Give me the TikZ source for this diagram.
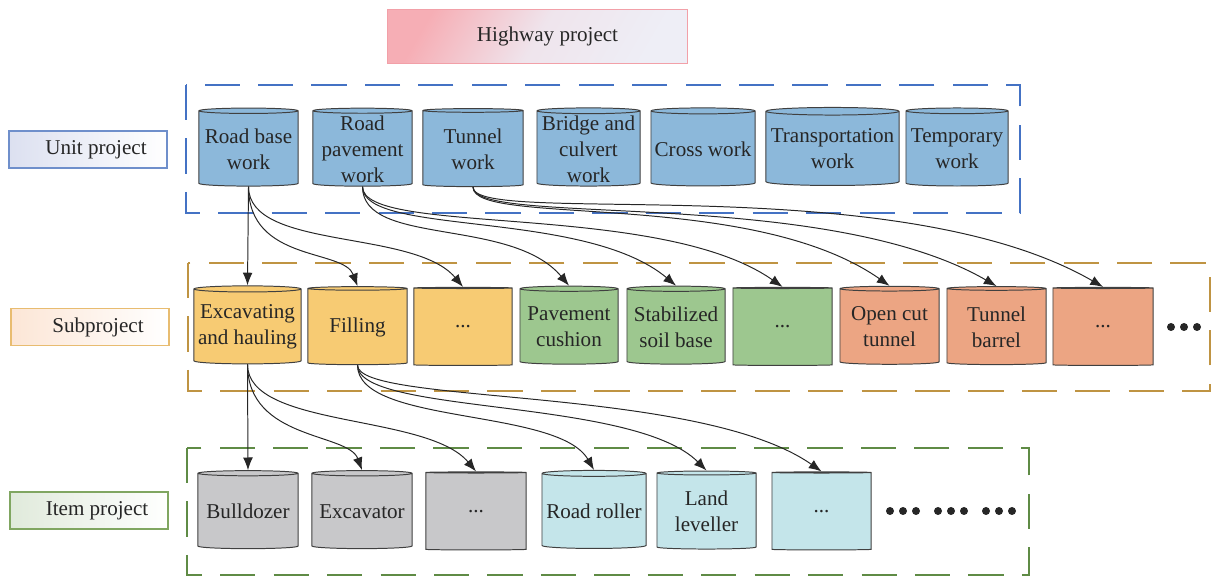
\documentclass[tikz,border=0pt]{standalone}
\usepackage{fontspec}
\setmainfont{Liberation Serif}
\usetikzlibrary{shapes.geometric,arrows.meta}
\definecolor{txtgray}{HTML}{262626}
\definecolor{drumline}{HTML}{404040}
\definecolor{unitblue}{HTML}{8CB8DA}
\definecolor{subyellow}{HTML}{F7CB73}
\definecolor{subgreen}{HTML}{9DC78F}
\definecolor{subsalmon}{HTML}{ECA583}
\definecolor{itemgray}{HTML}{C8C8CA}
\definecolor{itemcyan}{HTML}{C4E5EA}
\definecolor{tierblue}{HTML}{4472C4}
\definecolor{tiergold}{HTML}{BF9443}
\definecolor{tiergreen}{HTML}{5F8B45}
\definecolor{hwyred}{HTML}{F6AEB5}
\definecolor{hwylav}{HTML}{EEEEF6}
\definecolor{hwyline}{HTML}{F2A0A8}
\definecolor{unitline}{HTML}{6F8FCB}
\definecolor{unitfade}{HTML}{DCE0F0}
\definecolor{subline}{HTML}{E8BC70}
\definecolor{subfade}{HTML}{FCE6D6}
\definecolor{itemline}{HTML}{80A661}
\definecolor{itemfade}{HTML}{E0EADB}
\begin{document}
\begin{tikzpicture}[x=0.025cm,y=0.025cm,
    font=\fontsize{15}{18.5}\selectfont, text=txtgray,
    drum/.style={shape=cylinder, shape border rotate=90, aspect=0.06,
      draw=drumline, line width=0.7pt, fill=#1, minimum height=1.95cm,
      inner sep=1pt, align=center},
    tier/.style={draw=#1, dash pattern=on 25pt off 13pt, line width=1.3pt},
    tag/.style={draw=#1, line width=0.9pt, minimum width=3.95cm,
      minimum height=0.925cm, inner sep=0pt},
    link/.style={-{Latex[length=9pt,width=7pt]}, draw=txtgray, line width=0.7pt}]
  \useasboundingbox (0,0) rectangle (1211,-576);

  % top box
  \node[draw=hwyline, line width=0.7pt, shading=axis, top color=hwyred,
    bottom color=hwylav, middle color=hwylav!85!hwyred, shading angle=60,
    minimum width=7.475cm, minimum height=1.325cm, inner sep=0pt]
    (hwy) at (537.5,-36.5) {\hspace*{0.5cm}Highway project};

  % level tags
  \node[tag=unitline, left color=unitfade, right color=white]
    (unittag) at (88,-149.5) {\hspace*{0.4cm}Unit project};
  \node[tag=subline, left color=subfade, right color=white]
    (subtag) at (90,-327) {\hspace*{0.4cm}Subproject};
  \node[tag=itemline, left color=itemfade, right color=white]
    (itemtag) at (89,-510.5) {\hspace*{0.4cm}Item project};

  % dashed frames
  \draw[tier=tierblue] (186,-85) rectangle (1020,-213);
  \draw[tier=tiergold] (188,-263) rectangle (1210,-391);
  \draw[tier=tiergreen] (187,-448) rectangle (1029,-575);

  % unit projects
  \node[drum=unitblue, minimum width=2.475cm] (roadbase) at (248.5,-149) {Road base\\work};
  \node[drum=unitblue, minimum width=2.475cm] (pavement) at (362.5,-149) {Road\\pavement\\work};
  \node[drum=unitblue, minimum width=2.5cm] (tunnel) at (473,-149) {Tunnel\\work};
  \node[drum=unitblue, minimum width=2.575cm] (bridge) at (588.5,-149) {Bridge and\\culvert\\work};
  \node[drum=unitblue, minimum width=2.6cm] (cross) at (703,-149) {Cross work};
  \node[drum=unitblue, minimum width=3.325cm] (transport) at (832.5,-149) {Transportation\\work};
  \node[drum=unitblue, minimum width=2.55cm] (temporary) at (957,-149) {Temporary\\work};

  % subprojects
  \node[drum=subyellow, minimum width=2.675cm] (excav) at (247.5,-327) {Excavating\\and hauling};
  \node[drum=subyellow, minimum width=2.475cm] (filling) at (357.5,-327) {Filling};
  \node[drum=subyellow, minimum width=2.45cm] (basemore) at (463,-327) {...};
  \node[drum=subgreen, minimum width=2.45cm] (cushion) at (569,-327) {Pavement\\cushion};
  \node[drum=subgreen, minimum width=2.45cm] (soilbase) at (676,-327) {Stabilized\\soil base};
  \node[drum=subgreen, minimum width=2.475cm] (pavemore) at (782.5,-327) {...};
  \node[drum=subsalmon, minimum width=2.475cm] (opencut) at (889.5,-327) {Open cut\\tunnel};
  \node[drum=subsalmon, minimum width=2.475cm] (barrel) at (996.5,-327) {Tunnel\\barrel};
  \node[drum=subsalmon, minimum width=2.5cm] (tunnelmore) at (1103,-327) {...};

  % item projects
  \node[drum=itemgray, minimum width=2.5cm] (bulldozer) at (248,-511.5) {Bulldozer};
  \node[drum=itemgray, minimum width=2.5cm] (excavator) at (362,-511.5) {Excavator};
  \node[drum=itemgray, minimum width=2.5cm] (excavmore) at (476,-511.5) {...};
  \node[drum=itemcyan, minimum width=2.6cm] (roller) at (594,-511.5) {Road roller};
  \node[drum=itemcyan, minimum width=2.475cm] (leveller) at (706.5,-511.5) {Land\\leveller};
  \node[drum=itemcyan, minimum width=2.475cm] (fillmore) at (821.5,-511.5) {...};

  % more dots
  \foreach \x in {1171,1184,1197}
    \fill[txtgray] (\x,-327) circle (4);
  \foreach \x in {890,903,916,938,951,964,986,999,1012}
    \fill[txtgray] (\x,-511) circle (4);

  % unit -> sub
  \draw[link] (roadbase.south) -- (excav.north);
  \draw[link] (roadbase.south) to[out=-90, in=110, out distance=1.9cm, in distance=1cm] (filling.north);
  \draw[link] (roadbase.south) to[out=-90, in=130, out distance=1.6cm, in distance=1.9cm] (basemore.north);
  \draw[link] (pavement.south) to[out=-90, in=130, out distance=1.5cm, in distance=2.25cm] (cushion.north);
  \draw[link] (pavement.south) to[out=-90, in=140, out distance=1.25cm, in distance=3cm] (soilbase.north);
  \draw[link] (pavement.south) to[out=-90, in=145, out distance=1.25cm, in distance=3.75cm] (pavemore.north);
  \draw[link] (tunnel.south) to[out=-90, in=145, out distance=1cm, in distance=4.25cm] (opencut.north);
  \draw[link] (tunnel.south) to[out=-90, in=150, out distance=1cm, in distance=5cm] (barrel.north);
  \draw[link] (tunnel.south) to[out=-90, in=150, out distance=1cm, in distance=6cm] (tunnelmore.north);

  % sub -> item
  \draw[link] (excav.south) -- (bulldozer.north);
  \draw[link] (excav.south) to[out=-90, in=110, out distance=1.9cm, in distance=1cm] (excavator.north);
  \draw[link] (excav.south) to[out=-90, in=130, out distance=1.6cm, in distance=1.9cm] (excavmore.north);
  \draw[link] (filling.south) to[out=-90, in=120, out distance=1.5cm, in distance=1.8cm] (roller.north);
  \draw[link] (filling.south) to[out=-90, in=135, out distance=1.25cm, in distance=2.6cm] (leveller.north);
  \draw[link] (filling.south) to[out=-90, in=145, out distance=1cm, in distance=3.75cm] (fillmore.north);
\end{tikzpicture}
\end{document}
